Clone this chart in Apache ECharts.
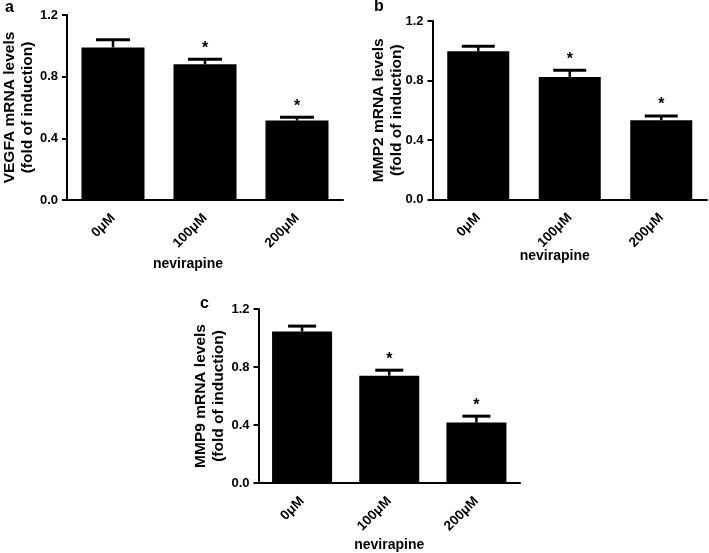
<!DOCTYPE html>
<html>
<head>
<meta charset="utf-8">
<script src="https://cdn.jsdelivr.net/npm/echarts@6/dist/echarts.min.js"></script>
<style>
html,body{margin:0;padding:0;background:#fff;}
#chart{width:709px;height:553px;}
</style>
</head>
<body>
<div id="chart"></div>
<script>
// ---- data ----
var categories = ['0μM', '100μM', '200μM'];
var yTicks = ['0.0', '0.4', '0.8', '1.2'];
var xTitle = 'nevirapine';

var vegfaTitle = 'VEGFA mRNA levels\n(fold of induction)';
var vegfaMean = [0.99, 0.88, 0.515];
var vegfaSem = [0.05, 0.033, 0.022];

var mmp2Title = 'MMP2 mRNA levels\n(fold of induction)';
var mmp2Mean = [0.997, 0.824, 0.533];
var mmp2Sem = [0.033, 0.045, 0.029];

var mmp9Title = 'MMP9 mRNA levels\n(fold of induction)';
var mmp9Mean = [1.045, 0.74, 0.417];
var mmp9Sem = [0.037, 0.038, 0.044];

var significance = ['', '*', '*'];
var panelLetters = ['a', 'b', 'c'];

// ---- chart ----
var FONT = '"Liberation Sans", Arial, Helvetica, sans-serif';
var chart = echarts.init(document.getElementById('chart'), null, {renderer: 'canvas'});

var panels = [
  {grid: {left: 66.5, top: 15, width: 276.5, height: 185}, title: vegfaTitle, mean: vegfaMean, sem: vegfaSem, barW: 63, capW: 34, yGap: 30, xGap: 57, xPad: [0, 34, 0, 0]},
  {grid: {left: 432.5, top: 21, width: 274.5, height: 178.5}, title: mmp2Title, mean: mmp2Mean, sem: mmp2Sem, barW: 62, capW: 33, yGap: 27, xGap: 50, xPad: [0, 30, 0, 0]},
  {grid: {left: 258.5, top: 309, width: 261.5, height: 175.5}, title: mmp9Title, mean: mmp9Mean, sem: mmp9Sem, barW: 60, capW: 28, yGap: 31, xGap: 55, xPad: [0, 0, 0, 0]}
];

var grids = [], xAxes = [], yAxes = [], series = [];
panels.forEach(function (p, k) {
  grids.push(p.grid);
  xAxes.push({
    type: 'category', gridIndex: k, data: categories,
    name: xTitle, nameLocation: 'middle', nameGap: p.xGap, nameMoveOverlap: false,
    nameTextStyle: {fontFamily: FONT, fontWeight: 'bold', fontSize: 14, color: '#000', padding: p.xPad},
    axisLine: {lineStyle: {color: '#000', width: 2}},
    axisTick: {alignWithLabel: true, length: 6, lineStyle: {color: '#000', width: 2}},
    axisLabel: {rotate: 45, margin: 16, fontFamily: FONT, fontWeight: 'bold', fontSize: 13.5, color: '#000'},
    splitLine: {show: false}
  });
  yAxes.push({
    type: 'value', gridIndex: k, min: 0, max: 1.2, interval: 0.4,
    name: p.title, nameLocation: 'middle', nameGap: p.yGap, nameRotate: 90, nameMoveOverlap: false,
    nameTextStyle: {fontFamily: FONT, fontWeight: 'bold', fontSize: 15.5, lineHeight: 18, color: '#000', align: 'center'},
    axisLine: {show: true, lineStyle: {color: '#000', width: 2}},
    axisTick: {show: true, length: 5, lineStyle: {color: '#000', width: 2}},
    axisLabel: {margin: 9, fontFamily: FONT, fontWeight: 'bold', fontSize: 13, color: '#000',
      formatter: function (v) { return yTicks[Math.round(v / 0.4)]; }},
    splitLine: {show: false}
  });
  series.push({
    type: 'bar', xAxisIndex: k, yAxisIndex: k, data: p.mean, barWidth: p.barW,
    itemStyle: {color: '#000'}, silent: true, animation: false
  });
  var errData = p.mean.map(function (m, i) { return [i, m, p.sem[i]]; });
  series.push({
    type: 'custom', xAxisIndex: k, yAxisIndex: k, data: errData, z: 5, animation: false, silent: true,
    renderItem: function (params, api) {
      var i = api.value(0), m = api.value(1), s = api.value(2);
      var base = api.coord([i, m]);
      var top = api.coord([i, m + s]);
      var hw = p.capW / 2;
      var children = [
        {type: 'line', shape: {x1: base[0], y1: base[1], x2: top[0], y2: top[1]}, style: {stroke: '#000', lineWidth: 2.5}},
        {type: 'line', shape: {x1: top[0] - hw, y1: top[1], x2: top[0] + hw, y2: top[1]}, style: {stroke: '#000', lineWidth: 3}}
      ];
      var star = significance[params.dataIndex];
      if (star) {
        children.push({type: 'text', style: {text: star, x: top[0], y: top[1] - 3, textAlign: 'center', textVerticalAlign: 'bottom',
          font: 'bold 16px ' + FONT, fill: '#000'}});
      }
      return {type: 'group', children: children};
    }
  });
});

var letterPos = [[10, 9], [379, 8], [205, 305]];
var graphics = panelLetters.map(function (t, k) {
  return {type: 'text', left: letterPos[k][0] - 5, top: letterPos[k][1] - 9,
    style: {text: t, font: 'bold 16px ' + FONT, fill: '#000'}};
});

chart.setOption({
  animation: false,
  backgroundColor: '#fff',
  grid: grids,
  xAxis: xAxes,
  yAxis: yAxes,
  series: series,
  graphic: graphics
});
</script>
</body>
</html>
